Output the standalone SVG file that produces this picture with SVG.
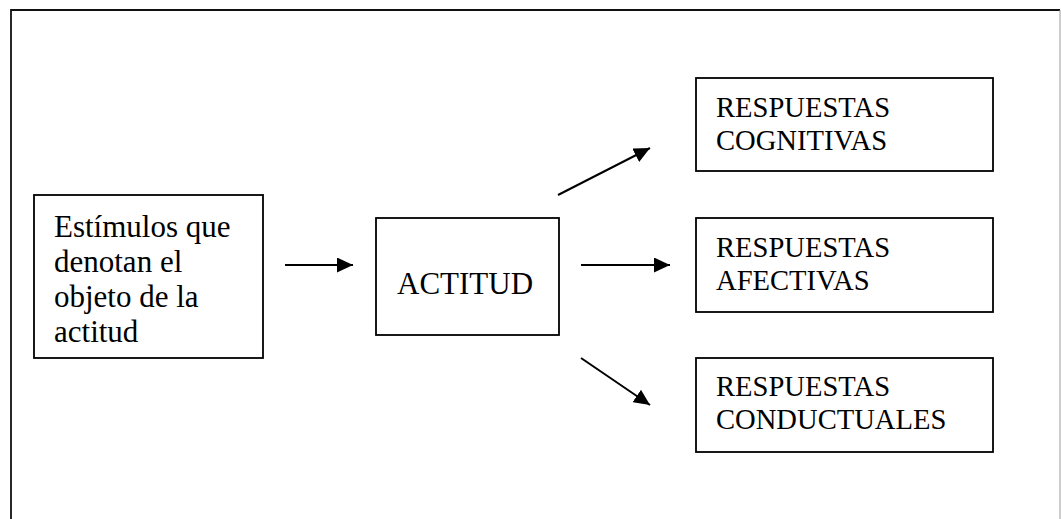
<svg xmlns="http://www.w3.org/2000/svg" width="1061" height="519" viewBox="0 0 1061 519">
<style>
.box{fill:#fff;stroke:#000;stroke-width:1.8}
.t{font-family:"Liberation Serif","Times New Roman",serif;fill:#000}
.c{stroke:#000;stroke-width:2;fill:none}
</style>
<defs>
<marker id="ah" markerUnits="userSpaceOnUse" markerWidth="17" markerHeight="15" refX="16" refY="7.5" orient="auto">
<path d="M0,0 L16,7.5 L0,15 Z" fill="#000"/>
</marker>
</defs>
<rect width="1061" height="519" fill="#fff"/>
<g id="frame">
<path d="M11,519 L11,10 L1060,10" fill="none" stroke="#111" stroke-width="1.8"/>
<path d="M1060,10 L1060,519" fill="none" stroke="#999" stroke-width="1"/>
</g>
<g id="estimulos">
<rect class="box" x="34" y="195" width="229" height="163"/>
<text class="t" font-size="31" x="54" y="237">Estímulos que</text>
<text class="t" font-size="31" x="54" y="272">denotan el</text>
<text class="t" font-size="31" x="54" y="307">objeto de la</text>
<text class="t" font-size="31" x="54" y="342">actitud</text>
</g>
<g id="actitud">
<rect class="box" x="376" y="218" width="183" height="117"/>
<text class="t" font-size="31" x="397" y="294">ACTITUD</text>
</g>
<g id="cognitivas">
<rect class="box" x="696" y="78" width="297" height="93"/>
<text class="t" font-size="28.6" x="716" y="117">RESPUESTAS</text>
<text class="t" font-size="28.6" x="716" y="150">COGNITIVAS</text>
</g>
<g id="afectivas">
<rect class="box" x="696" y="218" width="297" height="94"/>
<text class="t" font-size="28.6" x="716" y="257">RESPUESTAS</text>
<text class="t" font-size="28.6" x="716" y="290">AFECTIVAS</text>
</g>
<g id="conductuales">
<rect class="box" x="696" y="358" width="297" height="94"/>
<text class="t" font-size="28.6" x="716" y="396">RESPUESTAS</text>
<text class="t" font-size="28.6" x="716" y="429">CONDUCTUALES</text>
</g>
<g id="connectors">
<line class="c" x1="285" y1="265" x2="353" y2="265" marker-end="url(#ah)"/>
<line class="c" x1="581" y1="265" x2="670" y2="265" marker-end="url(#ah)"/>
<line class="c" x1="558" y1="195" x2="650" y2="148" marker-end="url(#ah)"/>
<line class="c" x1="581" y1="358" x2="650" y2="405" marker-end="url(#ah)"/>
</g>
</svg>
